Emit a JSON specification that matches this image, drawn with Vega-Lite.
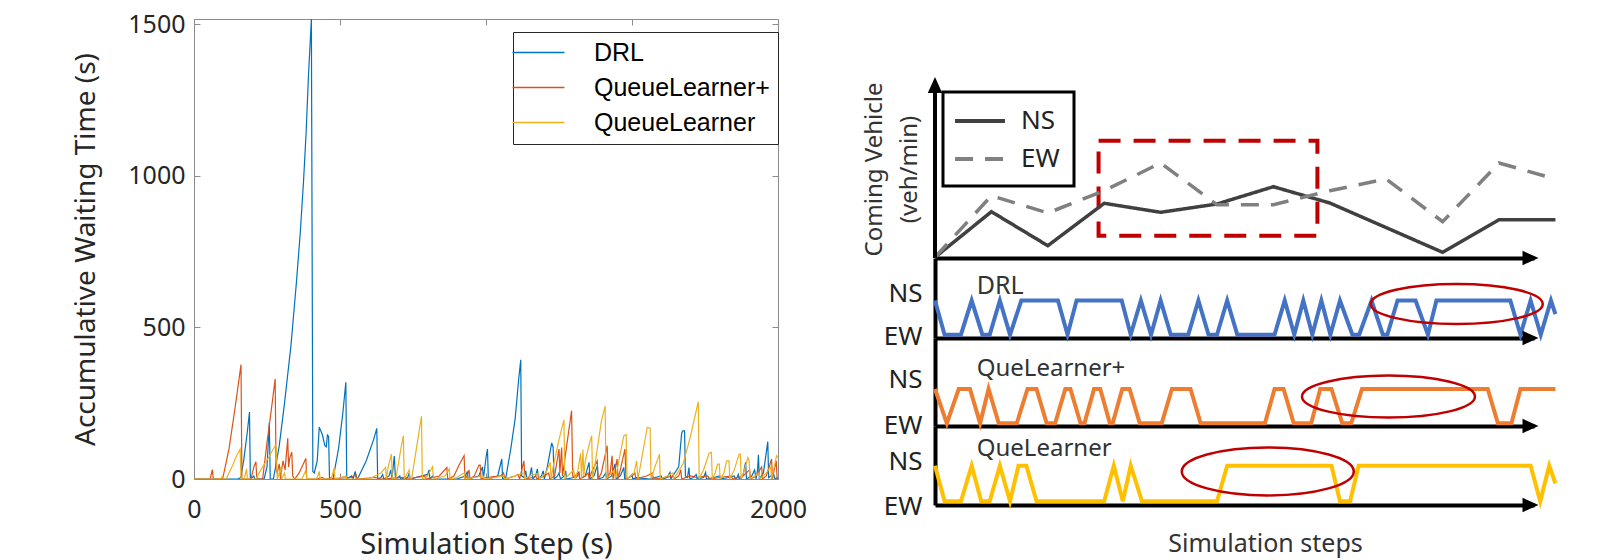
{
"$schema": "https://vega.github.io/schema/vega-lite/v6.json",
"padding": {"left": 72, "top": 11, "right": 5, "bottom": 0},
"background": "white",
"spacing": 54,
"config": {"view": {"stroke": null}, "axis": {"grid": false, "titleFontWeight": "normal", "labelFont": "Noto Sans", "titleFont": "Noto Sans"}},
"resolve": {"scale": {"color": "independent", "strokeDash": "independent"}, "legend": {"color": "independent", "strokeDash": "independent"}},
"datasets": {
"waits": [
{"method":"DRL","step":0,"wait":0},{"method":"DRL","step":150,"wait":0},{"method":"DRL","step":160,"wait":5},{"method":"DRL","step":170,"wait":60},{"method":"DRL","step":182,"wait":150},{"method":"DRL","step":190,"wait":221},{"method":"DRL","step":193,"wait":0},{"method":"DRL","step":205,"wait":10},{"method":"DRL","step":208,"wait":0},{"method":"DRL","step":240,"wait":0},{"method":"DRL","step":250,"wait":40},{"method":"DRL","step":258,"wait":185},{"method":"DRL","step":261,"wait":0},{"method":"DRL","step":272,"wait":0},{"method":"DRL","step":292,"wait":110},{"method":"DRL","step":310,"wait":250},{"method":"DRL","step":332,"wait":440},{"method":"DRL","step":350,"wait":640},{"method":"DRL","step":364,"wait":813},{"method":"DRL","step":375,"wait":980},{"method":"DRL","step":384,"wait":1143},{"method":"DRL","step":392,"wait":1330},{"method":"DRL","step":402,"wait":1517},{"method":"DRL","step":407,"wait":25},{"method":"DRL","step":412,"wait":20},{"method":"DRL","step":422,"wait":60},{"method":"DRL","step":429,"wait":171},{"method":"DRL","step":440,"wait":145},{"method":"DRL","step":448,"wait":110},{"method":"DRL","step":453,"wait":106},{"method":"DRL","step":457,"wait":145},{"method":"DRL","step":461,"wait":140},{"method":"DRL","step":464,"wait":5},{"method":"DRL","step":476,"wait":0},{"method":"DRL","step":495,"wait":100},{"method":"DRL","step":510,"wait":220},{"method":"DRL","step":520,"wait":319},{"method":"DRL","step":523,"wait":0},{"method":"DRL","step":540,"wait":10},{"method":"DRL","step":545,"wait":0},{"method":"DRL","step":552,"wait":25},{"method":"DRL","step":556,"wait":0},{"method":"DRL","step":560,"wait":0},{"method":"DRL","step":590,"wait":60},{"method":"DRL","step":615,"wait":130},{"method":"DRL","step":626,"wait":167},{"method":"DRL","step":629,"wait":0},{"method":"DRL","step":640,"wait":5},{"method":"DRL","step":646,"wait":15},{"method":"DRL","step":650,"wait":0},{"method":"DRL","step":668,"wait":10},{"method":"DRL","step":674,"wait":30},{"method":"DRL","step":678,"wait":0},{"method":"DRL","step":682,"wait":40},{"method":"DRL","step":686,"wait":76},{"method":"DRL","step":690,"wait":0},{"method":"DRL","step":705,"wait":10},{"method":"DRL","step":708,"wait":0},{"method":"DRL","step":732,"wait":5},{"method":"DRL","step":737,"wait":20},{"method":"DRL","step":740,"wait":0},{"method":"DRL","step":800,"wait":15},{"method":"DRL","step":805,"wait":30},{"method":"DRL","step":808,"wait":0},{"method":"DRL","step":818,"wait":10},{"method":"DRL","step":822,"wait":0},{"method":"DRL","step":900,"wait":0},{"method":"DRL","step":930,"wait":10},{"method":"DRL","step":936,"wait":25},{"method":"DRL","step":939,"wait":0},{"method":"DRL","step":975,"wait":10},{"method":"DRL","step":988,"wait":40},{"method":"DRL","step":991,"wait":0},{"method":"DRL","step":1000,"wait":70},{"method":"DRL","step":1005,"wait":99},{"method":"DRL","step":1008,"wait":0},{"method":"DRL","step":1040,"wait":10},{"method":"DRL","step":1054,"wait":66},{"method":"DRL","step":1057,"wait":0},{"method":"DRL","step":1068,"wait":5},{"method":"DRL","step":1085,"wait":100},{"method":"DRL","step":1100,"wait":200},{"method":"DRL","step":1112,"wait":330},{"method":"DRL","step":1119,"wait":393},{"method":"DRL","step":1122,"wait":10},{"method":"DRL","step":1130,"wait":5},{"method":"DRL","step":1136,"wait":27},{"method":"DRL","step":1140,"wait":0},{"method":"DRL","step":1150,"wait":10},{"method":"DRL","step":1156,"wait":38},{"method":"DRL","step":1160,"wait":0},{"method":"DRL","step":1170,"wait":10},{"method":"DRL","step":1176,"wait":33},{"method":"DRL","step":1180,"wait":0},{"method":"DRL","step":1190,"wait":10},{"method":"DRL","step":1196,"wait":27},{"method":"DRL","step":1200,"wait":0},{"method":"DRL","step":1210,"wait":40},{"method":"DRL","step":1225,"wait":119},{"method":"DRL","step":1230,"wait":104},{"method":"DRL","step":1233,"wait":0},{"method":"DRL","step":1245,"wait":10},{"method":"DRL","step":1250,"wait":20},{"method":"DRL","step":1255,"wait":0},{"method":"DRL","step":1268,"wait":10},{"method":"DRL","step":1273,"wait":27},{"method":"DRL","step":1276,"wait":0},{"method":"DRL","step":1300,"wait":5},{"method":"DRL","step":1318,"wait":22},{"method":"DRL","step":1321,"wait":0},{"method":"DRL","step":1340,"wait":10},{"method":"DRL","step":1353,"wait":55},{"method":"DRL","step":1356,"wait":0},{"method":"DRL","step":1370,"wait":10},{"method":"DRL","step":1381,"wait":44},{"method":"DRL","step":1384,"wait":0},{"method":"DRL","step":1400,"wait":5},{"method":"DRL","step":1410,"wait":20},{"method":"DRL","step":1413,"wait":0},{"method":"DRL","step":1430,"wait":10},{"method":"DRL","step":1442,"wait":50},{"method":"DRL","step":1445,"wait":0},{"method":"DRL","step":1460,"wait":10},{"method":"DRL","step":1472,"wait":38},{"method":"DRL","step":1475,"wait":0},{"method":"DRL","step":1490,"wait":5},{"method":"DRL","step":1500,"wait":15},{"method":"DRL","step":1503,"wait":0},{"method":"DRL","step":1518,"wait":5},{"method":"DRL","step":1530,"wait":3},{"method":"DRL","step":1560,"wait":0},{"method":"DRL","step":1600,"wait":10},{"method":"DRL","step":1604,"wait":0},{"method":"DRL","step":1620,"wait":5},{"method":"DRL","step":1630,"wait":22},{"method":"DRL","step":1633,"wait":0},{"method":"DRL","step":1660,"wait":40},{"method":"DRL","step":1670,"wait":150},{"method":"DRL","step":1674,"wait":159},{"method":"DRL","step":1680,"wait":159},{"method":"DRL","step":1683,"wait":10},{"method":"DRL","step":1690,"wait":5},{"method":"DRL","step":1695,"wait":38},{"method":"DRL","step":1698,"wait":0},{"method":"DRL","step":1710,"wait":5},{"method":"DRL","step":1720,"wait":15},{"method":"DRL","step":1723,"wait":0},{"method":"DRL","step":1745,"wait":5},{"method":"DRL","step":1752,"wait":22},{"method":"DRL","step":1755,"wait":0},{"method":"DRL","step":1780,"wait":5},{"method":"DRL","step":1800,"wait":10},{"method":"DRL","step":1803,"wait":0},{"method":"DRL","step":1830,"wait":5},{"method":"DRL","step":1850,"wait":10},{"method":"DRL","step":1855,"wait":0},{"method":"DRL","step":1860,"wait":5},{"method":"DRL","step":1864,"wait":15},{"method":"DRL","step":1867,"wait":0},{"method":"DRL","step":1880,"wait":10},{"method":"DRL","step":1889,"wait":55},{"method":"DRL","step":1892,"wait":0},{"method":"DRL","step":1910,"wait":10},{"method":"DRL","step":1920,"wait":30},{"method":"DRL","step":1925,"wait":0},{"method":"DRL","step":1930,"wait":30},{"method":"DRL","step":1933,"wait":80},{"method":"DRL","step":1936,"wait":0},{"method":"DRL","step":1950,"wait":20},{"method":"DRL","step":1965,"wait":123},{"method":"DRL","step":1968,"wait":5},{"method":"DRL","step":1975,"wait":10},{"method":"DRL","step":1985,"wait":15},{"method":"DRL","step":1990,"wait":0},{"method":"DRL","step":2000,"wait":5},
{"method":"QueueLearner+","step":0,"wait":0},{"method":"QueueLearner+","step":55,"wait":0},{"method":"QueueLearner+","step":63,"wait":31},{"method":"QueueLearner+","step":66,"wait":0},{"method":"QueueLearner+","step":98,"wait":0},{"method":"QueueLearner+","step":120,"wait":100},{"method":"QueueLearner+","step":140,"wait":230},{"method":"QueueLearner+","step":161,"wait":377},{"method":"QueueLearner+","step":164,"wait":0},{"method":"QueueLearner+","step":195,"wait":0},{"method":"QueueLearner+","step":205,"wait":40},{"method":"QueueLearner+","step":212,"wait":57},{"method":"QueueLearner+","step":215,"wait":0},{"method":"QueueLearner+","step":235,"wait":0},{"method":"QueueLearner+","step":250,"wait":120},{"method":"QueueLearner+","step":265,"wait":230},{"method":"QueueLearner+","step":278,"wait":330},{"method":"QueueLearner+","step":281,"wait":30},{"method":"QueueLearner+","step":285,"wait":20},{"method":"QueueLearner+","step":292,"wait":50},{"method":"QueueLearner+","step":296,"wait":0},{"method":"QueueLearner+","step":300,"wait":30},{"method":"QueueLearner+","step":305,"wait":60},{"method":"QueueLearner+","step":312,"wait":30},{"method":"QueueLearner+","step":321,"wait":134},{"method":"QueueLearner+","step":324,"wait":40},{"method":"QueueLearner+","step":328,"wait":70},{"method":"QueueLearner+","step":335,"wait":88},{"method":"QueueLearner+","step":338,"wait":10},{"method":"QueueLearner+","step":345,"wait":0},{"method":"QueueLearner+","step":360,"wait":20},{"method":"QueueLearner+","step":383,"wait":68},{"method":"QueueLearner+","step":386,"wait":0},{"method":"QueueLearner+","step":420,"wait":0},{"method":"QueueLearner+","step":440,"wait":5},{"method":"QueueLearner+","step":445,"wait":0},{"method":"QueueLearner+","step":540,"wait":5},{"method":"QueueLearner+","step":555,"wait":15},{"method":"QueueLearner+","step":558,"wait":0},{"method":"QueueLearner+","step":620,"wait":5},{"method":"QueueLearner+","step":640,"wait":0},{"method":"QueueLearner+","step":720,"wait":5},{"method":"QueueLearner+","step":730,"wait":0},{"method":"QueueLearner+","step":790,"wait":10},{"method":"QueueLearner+","step":795,"wait":0},{"method":"QueueLearner+","step":840,"wait":10},{"method":"QueueLearner+","step":866,"wait":38},{"method":"QueueLearner+","step":869,"wait":0},{"method":"QueueLearner+","step":890,"wait":10},{"method":"QueueLearner+","step":910,"wait":50},{"method":"QueueLearner+","step":925,"wait":77},{"method":"QueueLearner+","step":928,"wait":0},{"method":"QueueLearner+","step":935,"wait":10},{"method":"QueueLearner+","step":942,"wait":30},{"method":"QueueLearner+","step":945,"wait":0},{"method":"QueueLearner+","step":960,"wait":10},{"method":"QueueLearner+","step":976,"wait":46},{"method":"QueueLearner+","step":980,"wait":46},{"method":"QueueLearner+","step":983,"wait":0},{"method":"QueueLearner+","step":1000,"wait":5},{"method":"QueueLearner+","step":1050,"wait":10},{"method":"QueueLearner+","step":1060,"wait":20},{"method":"QueueLearner+","step":1065,"wait":0},{"method":"QueueLearner+","step":1100,"wait":10},{"method":"QueueLearner+","step":1110,"wait":15},{"method":"QueueLearner+","step":1115,"wait":0},{"method":"QueueLearner+","step":1120,"wait":20},{"method":"QueueLearner+","step":1130,"wait":60},{"method":"QueueLearner+","step":1133,"wait":0},{"method":"QueueLearner+","step":1160,"wait":5},{"method":"QueueLearner+","step":1170,"wait":10},{"method":"QueueLearner+","step":1175,"wait":0},{"method":"QueueLearner+","step":1200,"wait":10},{"method":"QueueLearner+","step":1215,"wait":20},{"method":"QueueLearner+","step":1218,"wait":0},{"method":"QueueLearner+","step":1235,"wait":10},{"method":"QueueLearner+","step":1250,"wait":99},{"method":"QueueLearner+","step":1253,"wait":20},{"method":"QueueLearner+","step":1259,"wait":104},{"method":"QueueLearner+","step":1262,"wait":10},{"method":"QueueLearner+","step":1275,"wait":100},{"method":"QueueLearner+","step":1293,"wait":225},{"method":"QueueLearner+","step":1297,"wait":10},{"method":"QueueLearner+","step":1310,"wait":5},{"method":"QueueLearner+","step":1318,"wait":20},{"method":"QueueLearner+","step":1321,"wait":0},{"method":"QueueLearner+","step":1340,"wait":10},{"method":"QueueLearner+","step":1350,"wait":20},{"method":"QueueLearner+","step":1353,"wait":0},{"method":"QueueLearner+","step":1365,"wait":30},{"method":"QueueLearner+","step":1381,"wait":60},{"method":"QueueLearner+","step":1384,"wait":0},{"method":"QueueLearner+","step":1395,"wait":20},{"method":"QueueLearner+","step":1415,"wait":110},{"method":"QueueLearner+","step":1418,"wait":10},{"method":"QueueLearner+","step":1425,"wait":20},{"method":"QueueLearner+","step":1432,"wait":77},{"method":"QueueLearner+","step":1435,"wait":0},{"method":"QueueLearner+","step":1440,"wait":20},{"method":"QueueLearner+","step":1449,"wait":66},{"method":"QueueLearner+","step":1452,"wait":0},{"method":"QueueLearner+","step":1460,"wait":30},{"method":"QueueLearner+","step":1476,"wait":99},{"method":"QueueLearner+","step":1479,"wait":0},{"method":"QueueLearner+","step":1500,"wait":10},{"method":"QueueLearner+","step":1510,"wait":20},{"method":"QueueLearner+","step":1513,"wait":0},{"method":"QueueLearner+","step":1530,"wait":5},{"method":"QueueLearner+","step":1550,"wait":10},{"method":"QueueLearner+","step":1570,"wait":20},{"method":"QueueLearner+","step":1573,"wait":0},{"method":"QueueLearner+","step":1620,"wait":5},{"method":"QueueLearner+","step":1640,"wait":10},{"method":"QueueLearner+","step":1645,"wait":0},{"method":"QueueLearner+","step":1660,"wait":10},{"method":"QueueLearner+","step":1667,"wait":30},{"method":"QueueLearner+","step":1670,"wait":0},{"method":"QueueLearner+","step":1700,"wait":10},{"method":"QueueLearner+","step":1720,"wait":5},{"method":"QueueLearner+","step":1760,"wait":10},{"method":"QueueLearner+","step":1765,"wait":0},{"method":"QueueLearner+","step":1800,"wait":5},{"method":"QueueLearner+","step":1840,"wait":10},{"method":"QueueLearner+","step":1845,"wait":0},{"method":"QueueLearner+","step":1880,"wait":10},{"method":"QueueLearner+","step":1903,"wait":30},{"method":"QueueLearner+","step":1906,"wait":0},{"method":"QueueLearner+","step":1925,"wait":10},{"method":"QueueLearner+","step":1944,"wait":40},{"method":"QueueLearner+","step":1947,"wait":0},{"method":"QueueLearner+","step":1960,"wait":10},{"method":"QueueLearner+","step":1978,"wait":66},{"method":"QueueLearner+","step":1981,"wait":0},{"method":"QueueLearner+","step":1985,"wait":20},{"method":"QueueLearner+","step":1994,"wait":60},{"method":"QueueLearner+","step":1997,"wait":0},{"method":"QueueLearner+","step":2000,"wait":5},
{"method":"QueueLearner","step":0,"wait":0},{"method":"QueueLearner","step":90,"wait":0},{"method":"QueueLearner","step":98,"wait":10},{"method":"QueueLearner","step":101,"wait":0},{"method":"QueueLearner","step":110,"wait":0},{"method":"QueueLearner","step":130,"wait":40},{"method":"QueueLearner","step":145,"wait":75},{"method":"QueueLearner","step":158,"wait":99},{"method":"QueueLearner","step":161,"wait":0},{"method":"QueueLearner","step":172,"wait":0},{"method":"QueueLearner","step":180,"wait":33},{"method":"QueueLearner","step":183,"wait":0},{"method":"QueueLearner","step":212,"wait":0},{"method":"QueueLearner","step":235,"wait":40},{"method":"QueueLearner","step":255,"wait":70},{"method":"QueueLearner","step":278,"wait":110},{"method":"QueueLearner","step":282,"wait":104},{"method":"QueueLearner","step":285,"wait":0},{"method":"QueueLearner","step":292,"wait":20},{"method":"QueueLearner","step":297,"wait":40},{"method":"QueueLearner","step":300,"wait":0},{"method":"QueueLearner","step":310,"wait":20},{"method":"QueueLearner","step":313,"wait":0},{"method":"QueueLearner","step":370,"wait":0},{"method":"QueueLearner","step":383,"wait":30},{"method":"QueueLearner","step":386,"wait":0},{"method":"QueueLearner","step":420,"wait":0},{"method":"QueueLearner","step":429,"wait":25},{"method":"QueueLearner","step":432,"wait":0},{"method":"QueueLearner","step":470,"wait":0},{"method":"QueueLearner","step":480,"wait":36},{"method":"QueueLearner","step":483,"wait":0},{"method":"QueueLearner","step":520,"wait":10},{"method":"QueueLearner","step":523,"wait":0},{"method":"QueueLearner","step":600,"wait":0},{"method":"QueueLearner","step":640,"wait":20},{"method":"QueueLearner","step":656,"wait":38},{"method":"QueueLearner","step":659,"wait":0},{"method":"QueueLearner","step":665,"wait":40},{"method":"QueueLearner","step":676,"wait":82},{"method":"QueueLearner","step":679,"wait":0},{"method":"QueueLearner","step":691,"wait":0},{"method":"QueueLearner","step":705,"wait":80},{"method":"QueueLearner","step":717,"wait":143},{"method":"QueueLearner","step":720,"wait":0},{"method":"QueueLearner","step":737,"wait":30},{"method":"QueueLearner","step":740,"wait":0},{"method":"QueueLearner","step":745,"wait":0},{"method":"QueueLearner","step":760,"wait":90},{"method":"QueueLearner","step":779,"wait":207},{"method":"QueueLearner","step":782,"wait":0},{"method":"QueueLearner","step":800,"wait":10},{"method":"QueueLearner","step":817,"wait":41},{"method":"QueueLearner","step":820,"wait":0},{"method":"QueueLearner","step":860,"wait":10},{"method":"QueueLearner","step":874,"wait":33},{"method":"QueueLearner","step":877,"wait":0},{"method":"QueueLearner","step":900,"wait":5},{"method":"QueueLearner","step":925,"wait":20},{"method":"QueueLearner","step":928,"wait":0},{"method":"QueueLearner","step":960,"wait":5},{"method":"QueueLearner","step":990,"wait":10},{"method":"QueueLearner","step":993,"wait":0},{"method":"QueueLearner","step":1030,"wait":5},{"method":"QueueLearner","step":1060,"wait":10},{"method":"QueueLearner","step":1063,"wait":0},{"method":"QueueLearner","step":1100,"wait":10},{"method":"QueueLearner","step":1130,"wait":20},{"method":"QueueLearner","step":1133,"wait":0},{"method":"QueueLearner","step":1150,"wait":10},{"method":"QueueLearner","step":1180,"wait":20},{"method":"QueueLearner","step":1183,"wait":0},{"method":"QueueLearner","step":1205,"wait":20},{"method":"QueueLearner","step":1220,"wait":55},{"method":"QueueLearner","step":1223,"wait":0},{"method":"QueueLearner","step":1230,"wait":40},{"method":"QueueLearner","step":1250,"wait":130},{"method":"QueueLearner","step":1267,"wait":195},{"method":"QueueLearner","step":1270,"wait":0},{"method":"QueueLearner","step":1290,"wait":20},{"method":"QueueLearner","step":1300,"wait":30},{"method":"QueueLearner","step":1305,"wait":0},{"method":"QueueLearner","step":1315,"wait":30},{"method":"QueueLearner","step":1324,"wait":85},{"method":"QueueLearner","step":1327,"wait":0},{"method":"QueueLearner","step":1332,"wait":97},{"method":"QueueLearner","step":1335,"wait":10},{"method":"QueueLearner","step":1340,"wait":60},{"method":"QueueLearner","step":1355,"wait":120},{"method":"QueueLearner","step":1362,"wait":143},{"method":"QueueLearner","step":1365,"wait":0},{"method":"QueueLearner","step":1375,"wait":60},{"method":"QueueLearner","step":1395,"wait":190},{"method":"QueueLearner","step":1408,"wait":240},{"method":"QueueLearner","step":1411,"wait":0},{"method":"QueueLearner","step":1430,"wait":20},{"method":"QueueLearner","step":1440,"wait":30},{"method":"QueueLearner","step":1443,"wait":0},{"method":"QueueLearner","step":1455,"wait":60},{"method":"QueueLearner","step":1472,"wait":143},{"method":"QueueLearner","step":1480,"wait":146},{"method":"QueueLearner","step":1483,"wait":0},{"method":"QueueLearner","step":1495,"wait":10},{"method":"QueueLearner","step":1507,"wait":20},{"method":"QueueLearner","step":1516,"wait":60},{"method":"QueueLearner","step":1520,"wait":0},{"method":"QueueLearner","step":1530,"wait":50},{"method":"QueueLearner","step":1552,"wait":170},{"method":"QueueLearner","step":1562,"wait":168},{"method":"QueueLearner","step":1565,"wait":0},{"method":"QueueLearner","step":1575,"wait":30},{"method":"QueueLearner","step":1594,"wait":82},{"method":"QueueLearner","step":1597,"wait":0},{"method":"QueueLearner","step":1620,"wait":10},{"method":"QueueLearner","step":1640,"wait":20},{"method":"QueueLearner","step":1643,"wait":0},{"method":"QueueLearner","step":1675,"wait":50},{"method":"QueueLearner","step":1700,"wait":140},{"method":"QueueLearner","step":1727,"wait":255},{"method":"QueueLearner","step":1730,"wait":0},{"method":"QueueLearner","step":1745,"wait":30},{"method":"QueueLearner","step":1764,"wait":85},{"method":"QueueLearner","step":1772,"wait":88},{"method":"QueueLearner","step":1775,"wait":0},{"method":"QueueLearner","step":1785,"wait":20},{"method":"QueueLearner","step":1793,"wait":49},{"method":"QueueLearner","step":1799,"wait":49},{"method":"QueueLearner","step":1802,"wait":0},{"method":"QueueLearner","step":1815,"wait":20},{"method":"QueueLearner","step":1824,"wait":60},{"method":"QueueLearner","step":1832,"wait":60},{"method":"QueueLearner","step":1835,"wait":0},{"method":"QueueLearner","step":1850,"wait":30},{"method":"QueueLearner","step":1867,"wait":82},{"method":"QueueLearner","step":1871,"wait":82},{"method":"QueueLearner","step":1874,"wait":0},{"method":"QueueLearner","step":1885,"wait":30},{"method":"QueueLearner","step":1897,"wait":71},{"method":"QueueLearner","step":1901,"wait":60},{"method":"QueueLearner","step":1904,"wait":0},{"method":"QueueLearner","step":1920,"wait":10},{"method":"QueueLearner","step":1935,"wait":20},{"method":"QueueLearner","step":1938,"wait":0},{"method":"QueueLearner","step":1960,"wait":20},{"method":"QueueLearner","step":1975,"wait":40},{"method":"QueueLearner","step":1978,"wait":0},{"method":"QueueLearner","step":1985,"wait":30},{"method":"QueueLearner","step":1995,"wait":77},{"method":"QueueLearner","step":2000,"wait":70}
],
"inflow": [
{"direction":"NS","step":0,"vehicles":0.7},{"direction":"NS","step":1,"vehicles":46.3},{"direction":"NS","step":2,"vehicles":12.3},{"direction":"NS","step":3,"vehicles":54.7},{"direction":"NS","step":4,"vehicles":45.7},{"direction":"NS","step":5,"vehicles":54},{"direction":"NS","step":6,"vehicles":71.3},{"direction":"NS","step":7,"vehicles":55},{"direction":"NS","step":9,"vehicles":5.7},{"direction":"NS","step":10,"vehicles":38.3},{"direction":"NS","step":11,"vehicles":38.3},
{"direction":"EW","step":0,"vehicles":0.7},{"direction":"EW","step":1,"vehicles":62.3},{"direction":"EW","step":2,"vehicles":45},{"direction":"EW","step":3,"vehicles":67.3},{"direction":"EW","step":4,"vehicles":95},{"direction":"EW","step":5,"vehicles":53.3},{"direction":"EW","step":6,"vehicles":53.3},{"direction":"EW","step":7,"vehicles":67.3},{"direction":"EW","step":8,"vehicles":79},{"direction":"EW","step":9,"vehicles":36.3},{"direction":"EW","step":10,"vehicles":95},{"direction":"EW","step":11,"vehicles":79}
],
"drl": [
{"step":0,"phase":1},{"step":0.17,"phase":0},{"step":0.46,"phase":0},{"step":0.65,"phase":1},{"step":0.84,"phase":0},{"step":0.97,"phase":0},{"step":1.15,"phase":1},{"step":1.33,"phase":0},{"step":1.53,"phase":1},{"step":2.18,"phase":1},{"step":2.35,"phase":0},{"step":2.51,"phase":1},{"step":3.31,"phase":1},{"step":3.47,"phase":0},{"step":3.65,"phase":1},{"step":3.83,"phase":0},{"step":4.0,"phase":1},{"step":4.18,"phase":0},{"step":4.49,"phase":0},{"step":4.67,"phase":1},{"step":4.85,"phase":0},{"step":5.0,"phase":0},{"step":5.18,"phase":1},{"step":5.36,"phase":0},{"step":6.02,"phase":0},{"step":6.2,"phase":1},{"step":6.37,"phase":0},{"step":6.53,"phase":1},{"step":6.69,"phase":0},{"step":6.85,"phase":1},{"step":7.01,"phase":0},{"step":7.18,"phase":1},{"step":7.4,"phase":0},{"step":7.52,"phase":0},{"step":7.74,"phase":1},{"step":7.94,"phase":0},{"step":8.02,"phase":0},{"step":8.2,"phase":1},{"step":8.52,"phase":1},{"step":8.74,"phase":0},{"step":8.89,"phase":1},{"step":10.2,"phase":1},{"step":10.38,"phase":0},{"step":10.56,"phase":1},{"step":10.74,"phase":0},{"step":10.92,"phase":1},{"step":11,"phase":0.6}
],
"qlplus": [
{"step":0,"phase":1},{"step":0.21,"phase":0},{"step":0.42,"phase":1},{"step":0.62,"phase":1},{"step":0.8,"phase":0},{"step":0.95,"phase":1},{"step":1.13,"phase":0},{"step":1.45,"phase":0},{"step":1.64,"phase":1},{"step":1.8,"phase":1},{"step":1.98,"phase":0},{"step":2.13,"phase":0},{"step":2.31,"phase":1},{"step":2.4,"phase":1},{"step":2.58,"phase":0},{"step":2.65,"phase":0},{"step":2.82,"phase":1},{"step":2.93,"phase":1},{"step":3.1,"phase":0},{"step":3.15,"phase":0},{"step":3.32,"phase":1},{"step":3.45,"phase":1},{"step":3.63,"phase":0},{"step":4.02,"phase":0},{"step":4.2,"phase":1},{"step":4.53,"phase":1},{"step":4.71,"phase":0},{"step":5.85,"phase":0},{"step":6.02,"phase":1},{"step":6.18,"phase":1},{"step":6.36,"phase":0},{"step":6.67,"phase":0},{"step":6.83,"phase":1},{"step":7.03,"phase":1},{"step":7.22,"phase":0},{"step":7.38,"phase":0},{"step":7.57,"phase":1},{"step":9.8,"phase":1},{"step":9.98,"phase":0},{"step":10.22,"phase":0},{"step":10.38,"phase":1},{"step":11,"phase":1}
],
"ql": [
{"step":0,"phase":1},{"step":0.17,"phase":0},{"step":0.46,"phase":0},{"step":0.65,"phase":1},{"step":0.82,"phase":0},{"step":0.97,"phase":0},{"step":1.15,"phase":1},{"step":1.33,"phase":0},{"step":1.48,"phase":1},{"step":1.62,"phase":1},{"step":1.8,"phase":0},{"step":3.0,"phase":0},{"step":3.17,"phase":1},{"step":3.33,"phase":0},{"step":3.47,"phase":1},{"step":3.67,"phase":0},{"step":5.0,"phase":0},{"step":5.18,"phase":1},{"step":7.03,"phase":1},{"step":7.18,"phase":0},{"step":7.36,"phase":0},{"step":7.51,"phase":1},{"step":10.56,"phase":1},{"step":10.73,"phase":0},{"step":10.89,"phase":1},{"step":11,"phase":0.5}
]
},
"hconcat": [
{
"width": 584, "height": 460,
"view": {"stroke": "#8c8c8c", "strokeWidth": 1},
"data": {"name": "waits"},
"layer": [
{"transform": [{"filter": "datum.method != 'QueueLearner'"}],
 "mark": {"type": "line", "strokeWidth": 1.2, "clip": true},
 "encoding": {
  "x": {"field": "step", "type": "quantitative", "scale": {"domain": [0, 2000], "nice": false, "zero": false},
        "axis": {"values": [0, 500, 1000, 1500, 2000], "format": "d", "title": "Simulation Step (s)", "domain": false, "tickSize": -6, "tickColor": "#8c8c8c", "labelFontSize": 25, "labelColor": "#262626", "labelPadding": 24, "labelFlush": false, "titleFontSize": 29, "titleColor": "#262626", "titlePadding": 8}},
  "y": {"field": "wait", "type": "quantitative", "scale": {"domain": [0, 1517], "nice": false},
        "axis": {"values": [0, 500, 1000, 1500], "format": "d", "title": "Accumulative Waiting Time (s)", "domain": false, "tickSize": -6, "tickColor": "#8c8c8c", "labelFontSize": 25, "labelColor": "#262626", "labelPadding": 15, "labelFlush": false, "titleFontSize": 28, "titleColor": "#262626", "titlePadding": 27}},
  "color": {"field": "method", "type": "nominal", "scale": {"domain": ["DRL", "QueueLearner+", "QueueLearner"], "range": ["#0072BD", "#D95319", "#EDB120"]},
        "legend": {"title": null, "orient": "none", "legendX": 319, "legendY": 13, "strokeColor": "#262626", "fillColor": "white", "padding": 8, "symbolType": "M-2.36,0H2.36", "symbolSize": 484, "symbolStrokeWidth": 1.3, "symbolOffset": 5, "labelOffset": 43, "labelFontSize": 25, "labelFont": "Liberation Sans", "labelColor": "#000000", "rowPadding": 9, "labelLimit": 300}}
 }},
{"transform": [{"filter": "datum.method == 'QueueLearner'"}],
 "mark": {"type": "line", "strokeWidth": 1.2, "clip": true},
 "encoding": {
  "x": {"field": "step", "type": "quantitative", "scale": {"domain": [0, 2000], "nice": false, "zero": false},
        "axis": {"orient": "top", "values": [0, 500, 1000, 1500, 2000], "title": null, "labels": false, "domain": false, "tickSize": -6, "tickColor": "#8c8c8c"}},
  "y": {"field": "wait", "type": "quantitative", "scale": {"domain": [0, 1517], "nice": false},
        "axis": {"orient": "right", "values": [0, 500, 1000, 1500], "title": null, "labels": false, "domain": false, "tickSize": -6, "tickColor": "#8c8c8c"}},
  "color": {"field": "method", "type": "nominal", "scale": {"domain": ["DRL", "QueueLearner+", "QueueLearner"], "range": ["#0072BD", "#D95319", "#EDB120"]},
        "legend": {"title": null, "orient": "none", "legendX": 319, "legendY": 13, "strokeColor": "#262626", "fillColor": "white", "padding": 8, "symbolType": "M-2.36,0H2.36", "symbolSize": 484, "symbolStrokeWidth": 1.3, "symbolOffset": 5, "labelOffset": 43, "labelFontSize": 25, "labelFont": "Liberation Sans", "labelColor": "#000000", "rowPadding": 9, "labelLimit": 300}}
 }}
],
"resolve": {"axis": {"x": "independent", "y": "independent"}}
},
{
"spacing": 0,
"bounds": "flush",
"vconcat": [
{
"width": 599, "height": 239,
"layer": [
{"data": {"values": [{}]},
 "mark": {"type": "rect", "filled": false, "stroke": "#C00000", "strokeWidth": 4, "strokeDash": [22, 13]},
 "encoding": {
  "x": {"datum": 2.9, "type": "quantitative", "scale": {"domain": [0, 10.62], "nice": false, "zero": false},
        "axis": {"title": null, "labels": false, "ticks": false, "domainColor": "black", "domainWidth": 4}},
  "x2": {"datum": 6.78},
  "y": {"datum": 22.3, "type": "quantitative", "scale": {"domain": [0, 239], "nice": false},
        "axis": {"title": ["Coming Vehicle", "(veh/min)"], "labels": false, "ticks": false, "domain": false, "titleFontSize": 24, "titleLineHeight": 35, "titlePadding": 14, "titleY": 150, "titleColor": "#333333"}},
  "y2": {"datum": 117.3}
 }},
{"data": {"name": "inflow"},
 "mark": {"type": "line", "strokeWidth": 3.5},
 "encoding": {
  "x": {"field": "step", "type": "quantitative", "scale": {"domain": [0, 10.62], "nice": false, "zero": false}},
  "y": {"field": "vehicles", "type": "quantitative", "scale": {"domain": [0, 239], "nice": false}},
  "color": {"field": "direction", "type": "nominal", "scale": {"domain": ["NS", "EW"], "range": ["#404040", "#808080"]},
        "legend": {"title": null, "orient": "none", "legendX": 8, "legendY": 73, "strokeColor": "#000000", "fillColor": "white", "padding": 14, "symbolType": "M-1.92,0H1.92", "symbolSize": 676, "symbolStrokeWidth": 4, "symbolOffset": 8, "labelOffset": 26, "labelFontSize": 26, "labelFont": "Noto Sans", "labelColor": "#222222", "rowPadding": 10, "encode": {"legend": {"update": {"strokeWidth": {"value": 3}}}}}},
  "strokeDash": {"field": "direction", "type": "nominal", "scale": {"domain": ["NS", "EW"], "range": [[1, 0], [18, 12]]},
        "legend": {"title": null, "orient": "none", "legendX": 8, "legendY": 73, "strokeColor": "#000000", "fillColor": "white", "padding": 14, "symbolType": "M-1.92,0H1.92", "symbolSize": 676, "symbolStrokeWidth": 4, "symbolOffset": 8, "labelOffset": 26, "labelFontSize": 26, "labelFont": "Noto Sans", "labelColor": "#222222", "rowPadding": 10, "encode": {"legend": {"update": {"strokeWidth": {"value": 3}}}}}}
 }},
{"data": {"values": [{}]},
 "mark": {"type": "rule", "color": "black", "strokeWidth": 4},
 "encoding": {
  "x": {"datum": 0, "type": "quantitative", "scale": {"domain": [0, 10.62], "nice": false, "zero": false}},
  "y": {"datum": 0, "type": "quantitative", "scale": {"domain": [0, 239], "nice": false}},
  "y2": {"datum": 168}
 }},
{"data": {"values": [{}]},
 "mark": {"type": "point", "shape": "M0,0L-0.9,2L0.9,2Z", "size": 256, "filled": true, "color": "black", "opacity": 1},
 "encoding": {
  "x": {"datum": 0, "type": "quantitative", "scale": {"domain": [0, 10.62], "nice": false, "zero": false}},
  "y": {"datum": 181, "type": "quantitative", "scale": {"domain": [0, 239], "nice": false}}
 }},
{"data": {"values": [{}]},
 "mark": {"type": "point", "shape": "M0,0L-2,-0.9L-2,0.9Z", "size": 256, "filled": true, "color": "black", "opacity": 1},
 "encoding": {
  "x": {"datum": 10.7, "type": "quantitative", "scale": {"domain": [0, 10.62], "nice": false, "zero": false}},
  "y": {"datum": 0, "type": "quantitative", "scale": {"domain": [0, 239], "nice": false}}
 }}
]
},
{
"width": 599, "height": 80,
"layer": [
{"data": {"name": "drl"},
 "mark": {"type": "line", "color": "#4472C4", "strokeWidth": 4},
 "encoding": {
  "x": {"field": "step", "type": "quantitative", "scale": {"domain": [0, 10.62], "nice": false, "zero": false},
        "axis": {"title": null, "labels": false, "ticks": false, "domainColor": "black", "domainWidth": 4}},
  "y": {"field": "phase", "type": "quantitative", "scale": {"domain": [-0.096, 2.245], "nice": false, "zero": false},
        "axis": {"values": [0, 1], "labelExpr": "datum.value == 1 ? 'NS' : 'EW'", "title": null, "ticks": false, "domainColor": "black", "domainWidth": 4, "labelFontSize": 26, "labelColor": "#222222", "labelPadding": 13, "labelFlush": false, "labelOffset": {"condition": {"test": "datum.value == 1", "value": -7}, "value": 2}}}
 }},
{"data": {"values": [{}]},
 "mark": {"type": "text", "text": "DRL", "align": "left", "baseline": "middle", "fontSize": 25, "font": "Noto Sans", "color": "#333333"},
 "encoding": {
  "x": {"datum": 0.74, "type": "quantitative", "scale": {"domain": [0, 10.62], "nice": false, "zero": false}},
  "y": {"datum": 1.43, "type": "quantitative", "scale": {"domain": [-0.096, 2.245], "nice": false, "zero": false}}
 }},
{"data": {"values": [{}]},
 "mark": {"type": "point", "shape": "M-1,0A1,0.2326,0,1,0,1,0A1,0.2326,0,1,0,-1,0", "size": 29584, "filled": false, "stroke": "#C00000", "strokeWidth": 2.5, "opacity": 1},
 "encoding": {
  "x": {"datum": 9.25, "type": "quantitative", "scale": {"domain": [0, 10.62], "nice": false, "zero": false}},
  "y": {"datum": 0.9, "type": "quantitative", "scale": {"domain": [-0.096, 2.245], "nice": false, "zero": false}}
 }},
{"data": {"values": [{}]},
 "mark": {"type": "point", "shape": "M0,0L-2,-0.9L-2,0.9Z", "size": 256, "filled": true, "color": "black", "opacity": 1},
 "encoding": {
  "x": {"datum": 10.7, "type": "quantitative", "scale": {"domain": [0, 10.62], "nice": false, "zero": false}},
  "y": {"datum": -0.096, "type": "quantitative", "scale": {"domain": [-0.096, 2.245], "nice": false, "zero": false}}
 }}
]
},
{
"width": 599, "height": 88,
"layer": [
{"data": {"name": "qlplus"},
 "mark": {"type": "line", "color": "#ED7D31", "strokeWidth": 4},
 "encoding": {
  "x": {"field": "step", "type": "quantitative", "scale": {"domain": [0, 10.62], "nice": false, "zero": false},
        "axis": {"title": null, "labels": false, "ticks": false, "domainColor": "black", "domainWidth": 4}},
  "y": {"field": "phase", "type": "quantitative", "scale": {"domain": [-0.079, 2.487], "nice": false, "zero": false},
        "axis": {"values": [0, 1], "labelExpr": "datum.value == 1 ? 'NS' : 'EW'", "title": null, "ticks": false, "domainColor": "black", "domainWidth": 4, "labelFontSize": 26, "labelColor": "#222222", "labelPadding": 13, "labelFlush": false, "labelOffset": {"condition": {"test": "datum.value == 1", "value": -9}, "value": 2}}}
 }},
{"data": {"values": [{}]},
 "mark": {"type": "text", "text": "QueLearner+", "align": "left", "baseline": "middle", "fontSize": 24, "font": "Noto Sans", "color": "#333333"},
 "encoding": {
  "x": {"datum": 0.74, "type": "quantitative", "scale": {"domain": [0, 10.62], "nice": false, "zero": false}},
  "y": {"datum": 1.58, "type": "quantitative", "scale": {"domain": [-0.079, 2.487], "nice": false, "zero": false}}
 }},
{"data": {"values": [{}]},
 "mark": {"type": "point", "shape": "M-1,0A1,0.243,0,1,0,1,0A1,0.243,0,1,0,-1,0", "size": 29929, "filled": false, "stroke": "#C00000", "strokeWidth": 2.5, "opacity": 1},
 "encoding": {
  "x": {"datum": 8.04, "type": "quantitative", "scale": {"domain": [0, 10.62], "nice": false, "zero": false}},
  "y": {"datum": 0.78, "type": "quantitative", "scale": {"domain": [-0.079, 2.487], "nice": false, "zero": false}}
 }},
{"data": {"values": [{}]},
 "mark": {"type": "point", "shape": "M0,0L-2,-0.9L-2,0.9Z", "size": 256, "filled": true, "color": "black", "opacity": 1},
 "encoding": {
  "x": {"datum": 10.7, "type": "quantitative", "scale": {"domain": [0, 10.62], "nice": false, "zero": false}},
  "y": {"datum": -0.079, "type": "quantitative", "scale": {"domain": [-0.079, 2.487], "nice": false, "zero": false}}
 }}
]
},
{
"width": 599, "height": 79,
"layer": [
{"data": {"name": "ql"},
 "mark": {"type": "line", "color": "#FFC000", "strokeWidth": 4},
 "encoding": {
  "x": {"field": "step", "type": "quantitative", "scale": {"domain": [0, 10.62], "nice": false, "zero": false},
        "axis": {"title": "Simulation steps", "labels": false, "ticks": false, "domainColor": "black", "domainWidth": 4, "titleFontSize": 25, "titleColor": "#333333", "titlePadding": 26, "titleX": 330}},
  "y": {"field": "phase", "type": "quantitative", "scale": {"domain": [-0.104, 2.115], "nice": false, "zero": false},
        "axis": {"values": [0, 1], "labelExpr": "datum.value == 1 ? 'NS' : 'EW'", "title": null, "ticks": false, "domainColor": "black", "domainWidth": 4, "labelFontSize": 26, "labelColor": "#222222", "labelPadding": 13, "labelFlush": false, "labelOffset": {"condition": {"test": "datum.value == 1", "value": -4}, "value": 5}}}
 }},
{"data": {"values": [{}]},
 "mark": {"type": "text", "text": "QueLearner", "align": "left", "baseline": "middle", "fontSize": 24, "font": "Noto Sans", "color": "#333333"},
 "encoding": {
  "x": {"datum": 0.74, "type": "quantitative", "scale": {"domain": [0, 10.62], "nice": false, "zero": false}},
  "y": {"datum": 1.47, "type": "quantitative", "scale": {"domain": [-0.104, 2.115], "nice": false, "zero": false}}
 }},
{"data": {"values": [{}]},
 "mark": {"type": "point", "shape": "M-1,0A1,0.279,0,1,0,1,0A1,0.279,0,1,0,-1,0", "size": 29584, "filled": false, "stroke": "#C00000", "strokeWidth": 2.5, "opacity": 1},
 "encoding": {
  "x": {"datum": 5.9, "type": "quantitative", "scale": {"domain": [0, 10.62], "nice": false, "zero": false}},
  "y": {"datum": 0.84, "type": "quantitative", "scale": {"domain": [-0.104, 2.115], "nice": false, "zero": false}}
 }},
{"data": {"values": [{}]},
 "mark": {"type": "point", "shape": "M0,0L-2,-0.9L-2,0.9Z", "size": 256, "filled": true, "color": "black", "opacity": 1},
 "encoding": {
  "x": {"datum": 10.7, "type": "quantitative", "scale": {"domain": [0, 10.62], "nice": false, "zero": false}},
  "y": {"datum": -0.104, "type": "quantitative", "scale": {"domain": [-0.104, 2.115], "nice": false, "zero": false}}
 }}
]
}
]
}
]
}
